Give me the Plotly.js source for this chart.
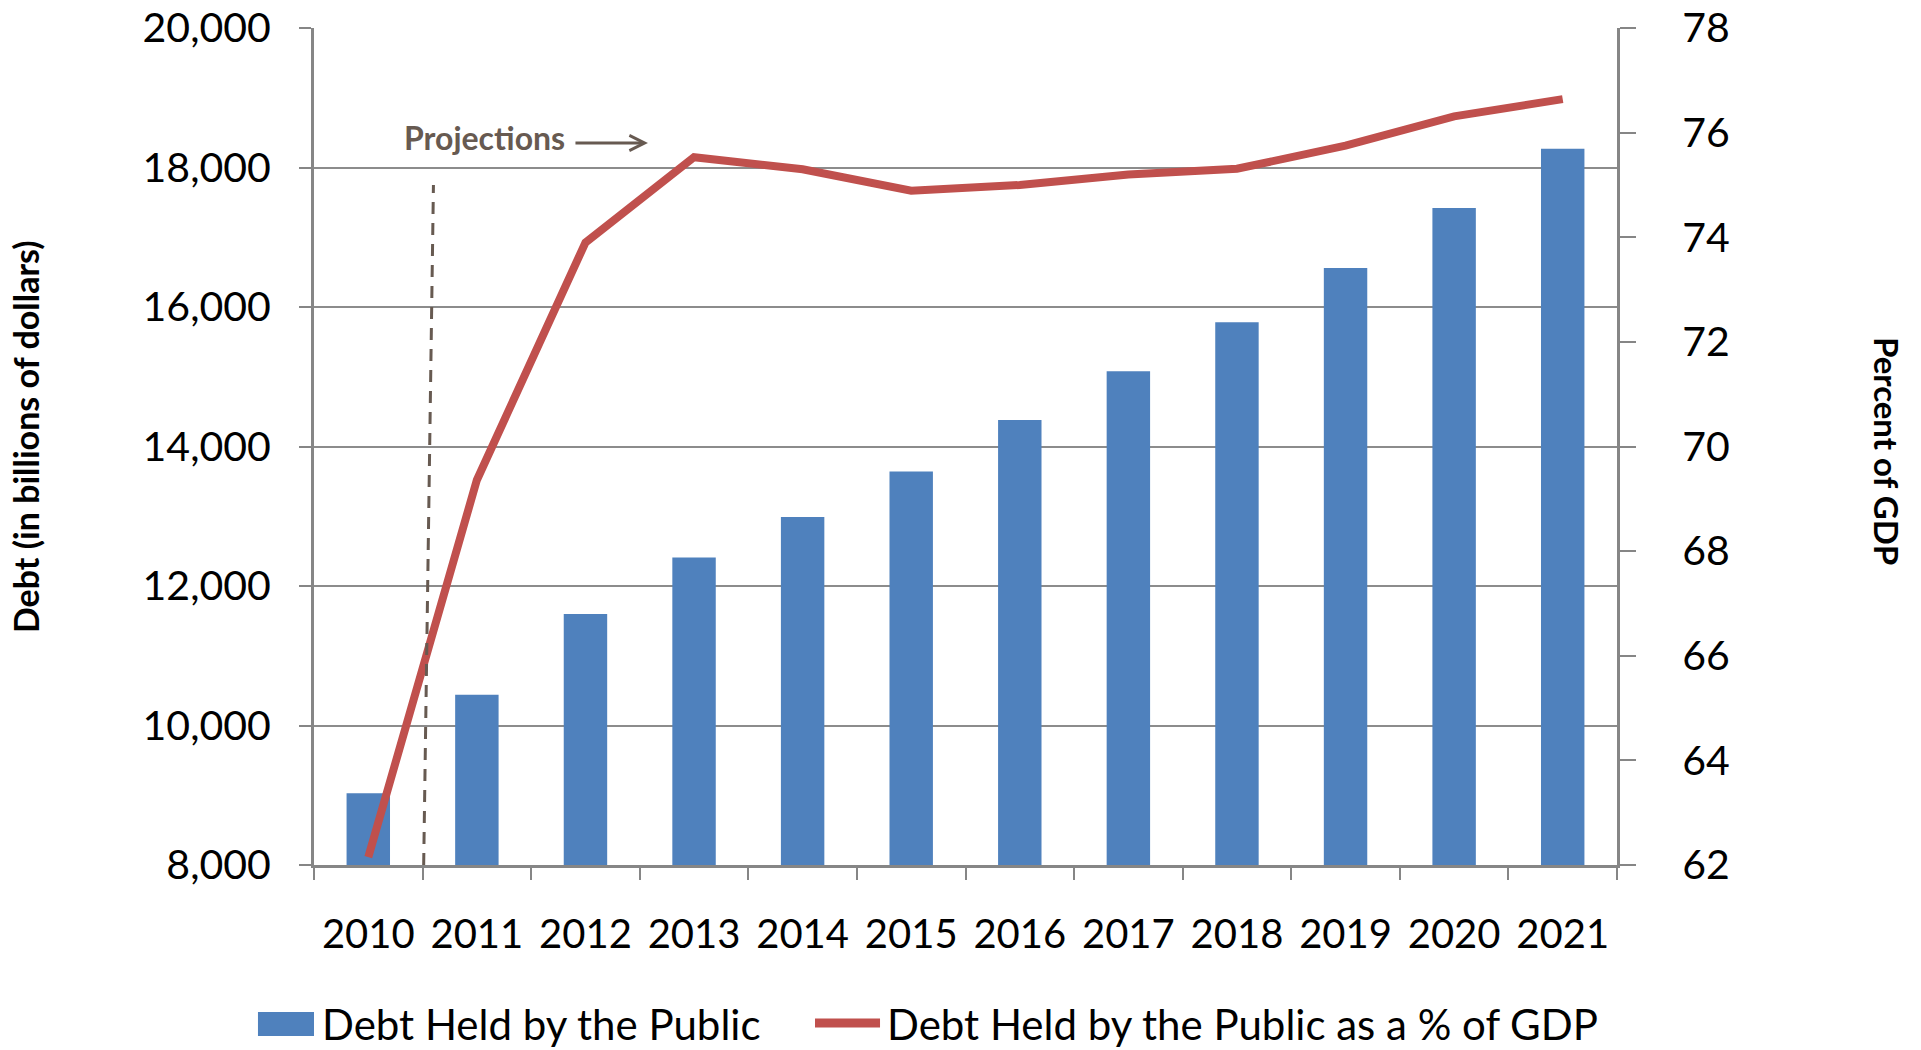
<!DOCTYPE html>
<html>
<head>
<meta charset="utf-8">
<script src="https://cdn.plot.ly/plotly-3.0.1.min.js"></script>
<style>
  html, body { margin: 0; padding: 0; background: #ffffff; }
  #chart { width: 1921px; height: 1050px; }
</style>
</head>
<body>
<div id="chart"></div>
<script>
// ---- data ----
const years = ["2010","2011","2012","2013","2014","2015","2016","2017","2018","2019","2020","2021"];
const debtBillions = [9030, 10440, 11600, 12410, 12990, 13640, 14380, 15080, 15780, 16560, 17420, 18270];
const debtPctGDP = [62.15, 69.36, 73.9, 75.53, 75.3, 74.89, 75.0, 75.2, 75.31, 75.75, 76.31, 76.64];
const barName = "Debt Held by the Public";
const lineName = "Debt Held by the Public as a % of GDP";
const leftTitle = "Debt (in billions of dollars)";
const rightTitle = "Percent of GDP";
const projLabel = "Projections";

const FONT = "Lato, 'Open Sans', 'DejaVu Sans', sans-serif";
const BLUE = "#4F81BD";
const RED = "#C0504D";
const AXIS = "#868686";
const BROWN = "#675A51";

const traces = [
  {
    type: "bar",
    x: years,
    y: debtBillions,
    name: barName,
    marker: { color: BLUE },
    width: 0.4,
    yaxis: "y",
    hoverinfo: "x+y"
  },
  {
    type: "scatter",
    mode: "lines",
    x: years,
    y: debtPctGDP,
    name: lineName,
    line: { color: RED, width: 8 },
    yaxis: "y2",
    hoverinfo: "x+y"
  }
];

const layout = {
  width: 1921,
  height: 1050,
  paper_bgcolor: "#ffffff",
  plot_bgcolor: "#ffffff",
  showlegend: false,
  font: { family: FONT, color: "#000000", size: 40 },
  margin: { l: 314, r: 304, t: 28, b: 185, autoexpand: false },
  xaxis: {
    type: "category",
    range: [-0.5, 11.5],
    tickson: "boundaries",
    ticks: "outside",
    ticklen: 12,
    tickwidth: 2,
    tickcolor: AXIS,
    showline: true,
    linecolor: AXIS,
    linewidth: 3,
    showgrid: false,
    zeroline: false,
    tickfont: { family: FONT, size: 40, color: "#000" },
    ticklabelstandoff: 32
  },
  yaxis: {
    range: [8000, 20000],
    tick0: 8000,
    dtick: 2000,
    tickformat: ",d",
    ticks: "outside",
    ticklen: 12,
    tickwidth: 2,
    tickcolor: AXIS,
    showline: true,
    linecolor: AXIS,
    linewidth: 3,
    showgrid: true,
    gridcolor: "#8C8C8C",
    gridwidth: 2,
    zeroline: false,
    tickfont: { family: FONT, size: 41, color: "#000" },
    ticklabelstandoff: 20
  },
  yaxis2: {
    overlaying: "y",
    side: "right",
    range: [62, 78],
    tick0: 62,
    dtick: 2,
    ticks: "outside",
    ticklen: 16,
    tickwidth: 2,
    tickcolor: AXIS,
    showline: true,
    linecolor: AXIS,
    linewidth: 3,
    showgrid: false,
    zeroline: false,
    tickfont: { family: FONT, size: 41, color: "#000" },
    ticklabelstandoff: 38
  },
  shapes: [
    // projection boundary (dashed, slightly slanted as in the reference)
    {
      type: "line", xref: "x", yref: "y",
      x0: 0.51, y0: 8000, x1: 0.60, y1: 17750,
      line: { color: BROWN, width: 3, dash: "12px,9px" },
      layer: "above"
    },
    // manual legend symbols
    {
      type: "rect", xref: "paper", yref: "paper",
      x0: -0.043, x1: 0.0, y0: -0.2043, y1: -0.1756,
      fillcolor: BLUE, line: { width: 0 }
    },
    {
      type: "line", xref: "paper", yref: "paper",
      x0: 0.3845, x1: 0.4344, y0: -0.1888, y1: -0.1888,
      line: { color: RED, width: 9 }
    }
  ],
  annotations: [
    {
      text: leftTitle, xref: "paper", yref: "paper",
      x: -0.2218, y: 0.5125, xanchor: "center", yanchor: "middle",
      textangle: -90, showarrow: false,
      font: { family: FONT, size: 34, color: "#000", weight: "bold" }
    },
    {
      text: rightTitle, xref: "paper", yref: "paper",
      x: 1.2072, y: 0.4946, xanchor: "center", yanchor: "middle",
      textangle: 90, showarrow: false,
      font: { family: FONT, size: 33, color: "#000", weight: "bold" }
    },
    {
      text: projLabel, xref: "paper", yref: "paper",
      x: 0.1305, y: 0.8695, xanchor: "center", yanchor: "middle",
      showarrow: false,
      font: { family: FONT, size: 32, color: BROWN, weight: "bold" }
    },
    {
      text: "", xref: "paper", yref: "paper",
      x: 0.2563, y: 0.8626,
      showarrow: true, axref: "pixel", ayref: "pixel",
      ax: -74, ay: 0,
      arrowhead: 5, arrowsize: 1, arrowwidth: 3, arrowcolor: BROWN, standoff: 0
    },
    {
      text: barName, xref: "paper", yref: "paper",
      x: 0.0046, y: -0.19, xanchor: "left", yanchor: "middle",
      showarrow: false,
      font: { family: FONT, size: 42, color: "#000" }
    },
    {
      text: lineName, xref: "paper", yref: "paper",
      x: 0.4382, y: -0.19, xanchor: "left", yanchor: "middle",
      showarrow: false,
      font: { family: FONT, size: 42, color: "#000" }
    }
  ]
};

Plotly.newPlot("chart", traces, layout, { displayModeBar: false, staticPlot: true });
</script>
</body>
</html>
